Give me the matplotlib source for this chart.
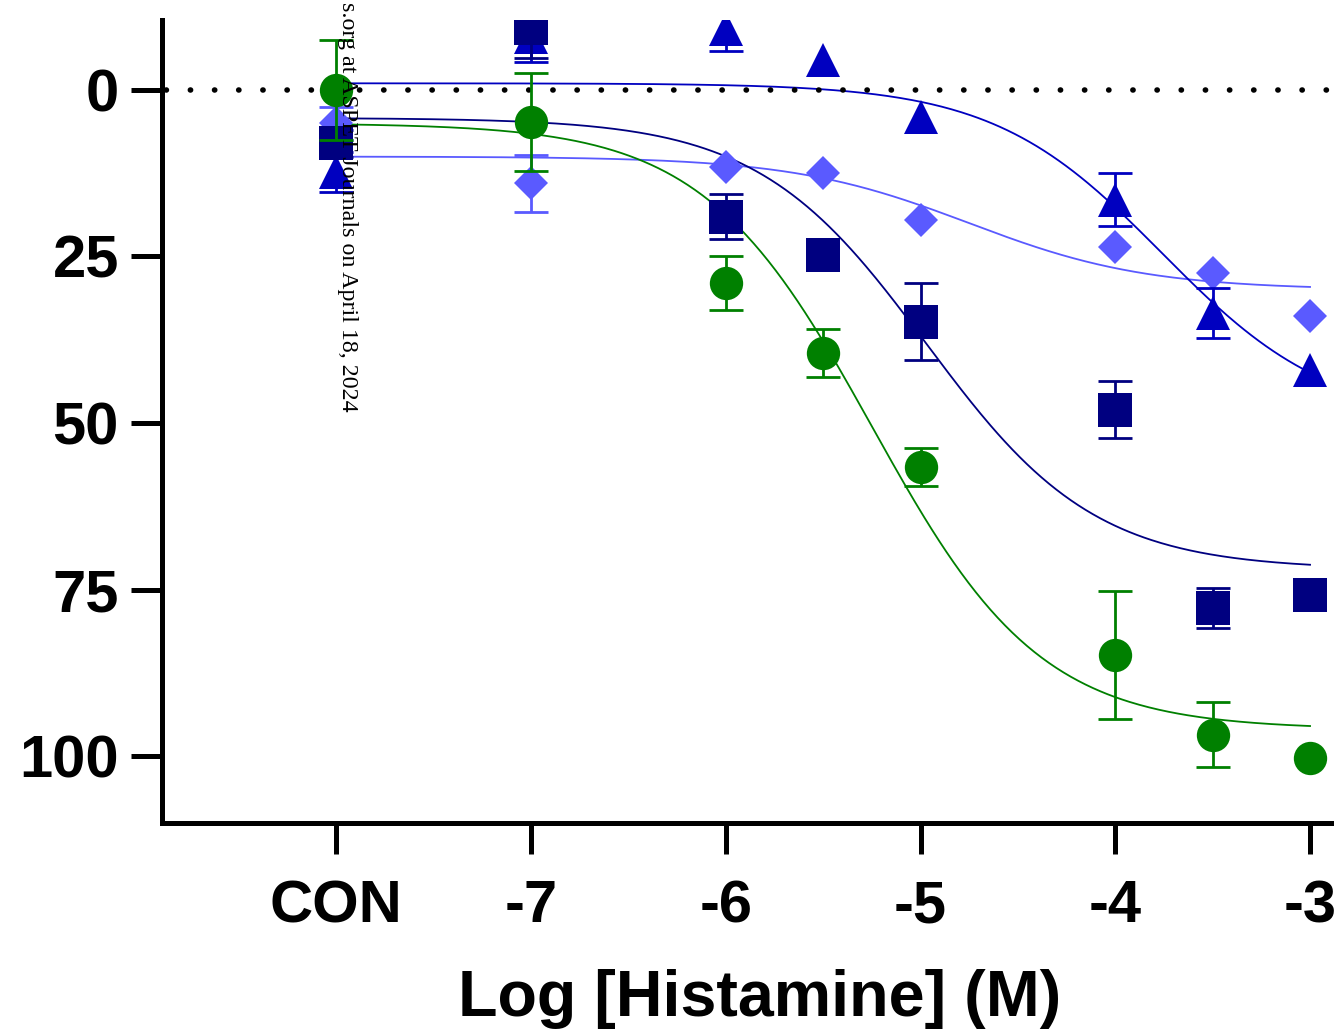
import numpy as np
import matplotlib.pyplot as plt

# x positions: CON is plotted at -8
log_conc = [-8, -7, -6, -5.5, -5, -4, -3.5, -3]
tick_pos = [-8, -7, -6, -5, -4, -3]
tick_labels = ['CON', '-7', '-6', '-5', '-4', '-3']

# mean response and SEM per group (0 = error bar hidden inside the symbol)
circle_mean = [0, 4.8, 29, 39.5, 56.6, 84.8, 96.8, 100.3]
circle_err = [7.5, 7.3, 4, 3.6, 2.8, 9.6, 4.9, 0]
square_mean = [8, -9.3, 19, 24.8, 34.8, 48, 77.8, 75.8]
square_err = [2, 4.5, 3.4, 0, 5.8, 4.3, 3, 0]
triangle_mean = [12.3, -8, -9.2, -4.5, 4, 16.5, 33.5, 42]
triangle_err = [3, 3.8, 3.3, 0, 0, 4, 3.8, 0]
diamond_mean = [5, 14, 11.6, 12.5, 19.5, 23.6, 27.5, 34]
diamond_err = [2.5, 4.3, 0, 0, 0, 0, 0, 0]

# fitted 4PL curves: top, bottom, logEC50, hill
circle_fit = [5, 96, -5.25, 1.0]
square_fit = [4.2, 72, -4.97, 1.0]
triangle_fit = [-1, 50, -3.76, 1.0]
diamond_fit = [10, 30, -4.75, 0.95]

green = '#008000'
navy = '#000080'
blue = '#0000c0'
light_blue = '#5a5aff'


def four_pl(x, top, bottom, ec50, hill):
    return top + (bottom - top) / (1 + 10 ** ((ec50 - x) * hill))


fig = plt.figure(figsize=(13.34, 10.31), dpi=100)
ax = fig.add_axes([162 / 1334, (1031 - 823) / 1031, (1334 - 162) / 1334, (823 - 20) / 1031])

xs = np.linspace(-8, -3, 400)
series = [
    (diamond_mean, diamond_err, diamond_fit, light_blue, 'D', 17),
    (triangle_mean, triangle_err, triangle_fit, blue, '^', 24),
    (square_mean, square_err, square_fit, navy, 's', 24),
    (circle_mean, circle_err, circle_fit, green, 'o', 24),
]

for mean, err, fit, col, mk, ms in series:
    ax.plot(xs, four_pl(xs, *fit), color=col, lw=1.3, zorder=2)

# zero reference line
ax.plot([-9, -2], [0, 0], color='black', lw=4, ls=(0, (0.05, 4.3)),
        dash_capstyle='round', zorder=2.5)

for i, (mean, err, fit, col, mk, ms) in enumerate(series):
    x = np.array(log_conc)
    m = np.array(mean)
    e = np.array(err)
    show = e > 0
    ax.errorbar(x[show], m[show], yerr=e[show], fmt='none', ecolor=col,
                elinewidth=2, capsize=12, capthick=2, zorder=3 + i)
    ax.plot(x, m, ls='none', marker=mk, color=col, ms=ms, mew=0,
            zorder=3.5 + i)

ax.set_xlim(-8.895, -2.877)
ax.set_ylim(110.05, -10.5)

for side in ['top', 'right']:
    ax.spines[side].set_visible(False)
for side in ['left', 'bottom']:
    ax.spines[side].set_linewidth(3.6)

ax.set_xticks(tick_pos)
ax.set_xticklabels(tick_labels)
ax.set_yticks([0, 25, 50, 75, 100])
ax.tick_params(axis='both', length=22, width=3.6, direction='out')
ax.tick_params(axis='y', pad=9)
ax.tick_params(axis='x', pad=18.5)
for lbl in ax.get_xticklabels() + ax.get_yticklabels():
    lbl.set_fontfamily('Liberation Sans')
    lbl.set_fontweight('bold')
    lbl.set_fontsize(43)

ax.set_xlabel('Log [Histamine] (M)', fontfamily='Liberation Sans',
              fontweight='bold', fontsize=46.5)
ax.xaxis.set_label_coords((760 - 162) / (1334 - 162), -193 / 803)
ax.xaxis.label.set_va('baseline')

# download watermark running down the page
fig.text(342 / 1334, 1 - 412 / 1031, 's.org at ASPET Journals on April 18, 2024',
         rotation=-90, rotation_mode='anchor', ha='right', va='baseline',
         fontfamily='Liberation Serif', fontsize=17.3, color='black', zorder=10)

fig.savefig('out.png', dpi=100, facecolor='white')
